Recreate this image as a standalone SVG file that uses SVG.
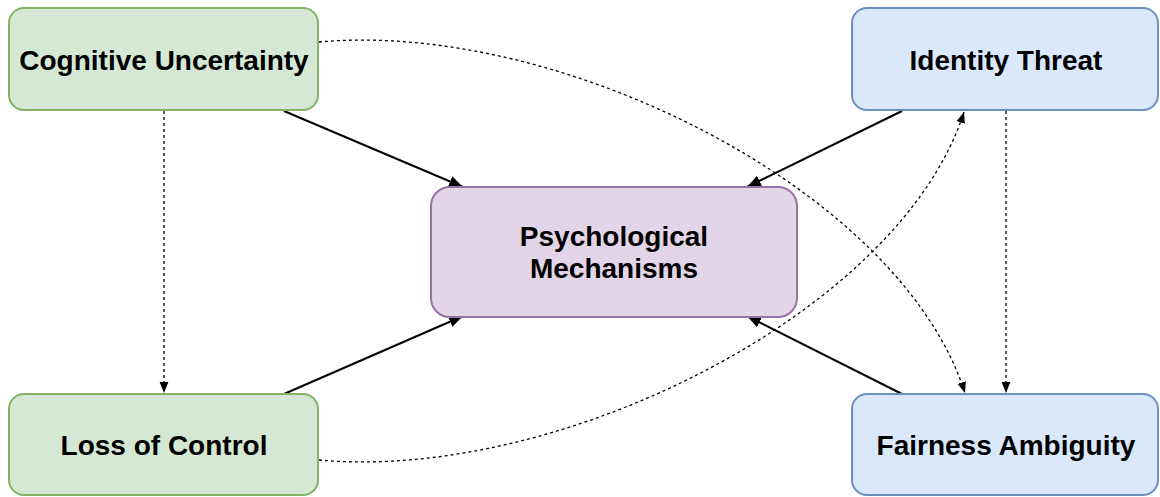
<svg xmlns="http://www.w3.org/2000/svg" width="1160" height="497" viewBox="0 0 1160 497">
<style>
.g{fill:#d5e8d4;stroke:#82b366;stroke-width:2}
.b{fill:#dae8fc;stroke:#6c8ebf;stroke-width:2}
.p{fill:#e1d5e7;stroke:#9673a6;stroke-width:2}
.t{font-family:"Liberation Sans",Arial,Helvetica,sans-serif;font-weight:bold;font-size:28px;fill:#000;text-anchor:middle}
.s{fill:none;stroke:#000;stroke-width:2}
.d{fill:none;stroke:#000;stroke-width:1.3;stroke-dasharray:3 3}
</style>
<defs>
<marker id="as" viewBox="0 0 10 10" refX="10" refY="5" markerWidth="11" markerHeight="11" markerUnits="userSpaceOnUse" orient="auto"><path d="M0,1 L10,5 L0,9 z" fill="#000"/></marker>
<marker id="ab" viewBox="0 0 10 10" refX="10" refY="5" markerWidth="14" markerHeight="14" markerUnits="userSpaceOnUse" orient="auto"><path d="M0,1 L10,5 L0,9 z" fill="#000"/></marker>
</defs>
<g id="connectors">
<line class="s" x1="284" y1="111" x2="463" y2="187" marker-end="url(#ab)"/>
<line class="s" x1="902" y1="111" x2="747" y2="187" marker-end="url(#ab)"/>
<line class="s" x1="284" y1="394" x2="463" y2="316" marker-end="url(#ab)"/>
<line class="s" x1="902" y1="394" x2="747" y2="316" marker-end="url(#ab)"/>
<line class="d" x1="164" y1="111" x2="164" y2="393" marker-end="url(#as)"/>
<line class="d" x1="1006" y1="111" x2="1006" y2="393" marker-end="url(#as)"/>
<path class="d" d="M319,42 C560,20 900,190 965,393" marker-end="url(#as)"/>
<path class="d" d="M319,460 C560,482 900,312 964,112" marker-end="url(#as)"/>
</g>
<g id="cognitive-uncertainty">
<rect class="g" x="9" y="8" width="309" height="102" rx="15"/>
<text class="t" x="164" y="70">Cognitive Uncertainty</text>
</g>
<g id="identity-threat">
<rect class="b" x="852" y="8" width="306" height="102" rx="15"/>
<text class="t" x="1006" y="70">Identity Threat</text>
</g>
<g id="loss-of-control">
<rect class="g" x="9" y="394" width="309" height="101" rx="15"/>
<text class="t" x="164" y="455">Loss of Control</text>
</g>
<g id="fairness-ambiguity">
<rect class="b" x="852" y="394" width="306" height="101" rx="15"/>
<text class="t" x="1006" y="455">Fairness Ambiguity</text>
</g>
<g id="psychological-mechanisms">
<rect class="p" x="431" y="187" width="366" height="130" rx="19"/>
<text class="t" x="614" y="246">Psychological</text>
<text class="t" x="614" y="278">Mechanisms</text>
</g>
</svg>
